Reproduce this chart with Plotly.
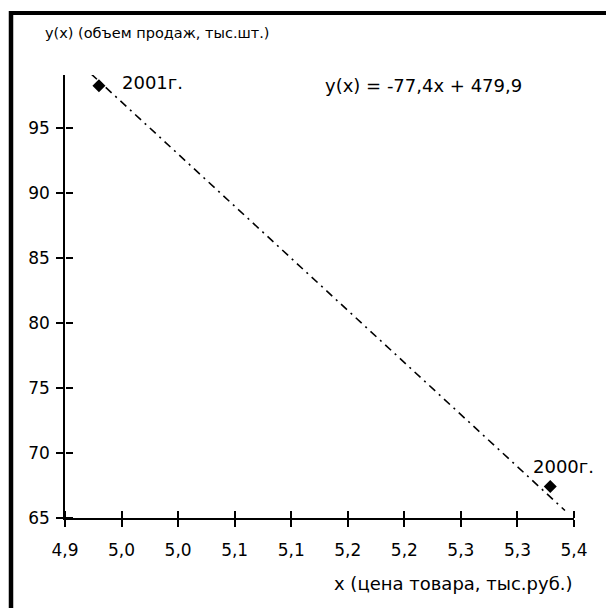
import plotly.graph_objects as go

# ---- data ----
years = ["2001г.", "2000г."]
price = [4.930, 5.329]          # x, тыс.руб.
sales = [98.27, 67.42]          # y, тыс.шт.
trend_x = [4.923, 5.342]
trend_y = [99.19, 65.58]
equation = "y(x) = -77,4x + 479,9"
x_tickvals = [4.90, 4.95, 5.00, 5.05, 5.10, 5.15, 5.20, 5.25, 5.30, 5.35]
x_ticktext = ["4,9", "5,0", "5,0", "5,1", "5,1", "5,2", "5,2", "5,3", "5,3", "5,4"]
y_tickvals = [65, 70, 75, 80, 85, 90, 95]
y_ticktext = ["65", "70", "75", "80", "85", "90", "95"]
x_title = "x (цена товара, тыс.руб.)"
y_title = "y(x) (объем продаж, тыс.шт.)"

XR = [4.90, 5.35]
YR = [65, 99.1]
FONT = "DejaVu Sans"
OFF = 0  # body margin removed by post_script

fig = go.Figure()
fig.add_trace(go.Scatter(
    x=trend_x, y=trend_y, mode="lines",
    line=dict(color="black", width=1.6, dash="8px,5px,2px,5px"),
    hoverinfo="skip"))
fig.add_trace(go.Scatter(
    x=price, y=sales, mode="markers",
    marker=dict(symbol="diamond", size=10, color="black")))
# dummy trace so the tick-only overlay axes are drawn
fig.add_trace(go.Scatter(x=[None], y=[None], xaxis="x2", yaxis="y2",
                         mode="markers", hoverinfo="skip"))

W, H = 606, 608
ml, mr, mt, mb = 65, 32, 75, 90
pw, ph = W - ml - mr, H - mt - mb

def px2paper_x(px):
    return (px - OFF - ml) / pw

def px2paper_y(py):
    return 1 - (py - OFF - mt) / ph

fig.update_layout(
    width=W, height=H,
    margin=dict(l=ml, r=mr, t=mt, b=mb),
    paper_bgcolor="white", plot_bgcolor="white",
    showlegend=False,
    font=dict(family=FONT, color="black"),
    xaxis=dict(range=XR, tickmode="array", tickvals=x_tickvals, ticktext=x_ticktext,
               ticks="outside", ticklen=7, tickwidth=1.5, tickcolor="black",
               showline=True, linecolor="black", linewidth=1.5,
               ticklabelstandoff=9, showgrid=False, zeroline=False,
               tickfont=dict(family=FONT, size=17, color="black")),
    yaxis=dict(range=YR, tickmode="array", tickvals=y_tickvals, ticktext=y_ticktext,
               ticks="outside", ticklen=7, tickwidth=1.5, tickcolor="black",
               showline=True, linecolor="black", linewidth=1.5,
               ticklabelstandoff=3, showgrid=False, zeroline=False,
               tickfont=dict(family=FONT, size=17, color="black")),
    # inner halves of the crossing tick marks
    xaxis2=dict(range=XR, overlaying="x", anchor="free", position=0, side="top",
                tickmode="array", tickvals=x_tickvals, ticks="outside", ticklen=7,
                tickwidth=1.5, tickcolor="black", showticklabels=False,
                showline=False, showgrid=False, zeroline=False),
    yaxis2=dict(range=YR, overlaying="y", anchor="free", position=0, side="right",
                tickmode="array", tickvals=y_tickvals, ticks="outside", ticklen=7,
                tickwidth=1.5, tickcolor="black", showticklabels=False,
                showline=False, showgrid=False, zeroline=False),
)

# frame (left and top edges)
fig.add_shape(type="line", xref="paper", yref="paper",
              x0=px2paper_x(11), x1=px2paper_x(11),
              y0=px2paper_y(11), y1=px2paper_y(640),
              line=dict(color="black", width=4.5))
fig.add_shape(type="line", xref="paper", yref="paper",
              x0=px2paper_x(9), x1=px2paper_x(640),
              y0=px2paper_y(13), y1=px2paper_y(13),
              line=dict(color="black", width=4))

# axis titles and equation
fig.add_annotation(text=y_title, xref="paper", yref="paper",
                   x=px2paper_x(43), y=px2paper_y(33), xanchor="left", yanchor="middle",
                   showarrow=False, font=dict(family=FONT, size=14.5, color="black"))
fig.add_annotation(text=x_title, xref="paper", yref="paper",
                   x=px2paper_x(575), y=px2paper_y(583), xanchor="right", yanchor="middle",
                   showarrow=False, font=dict(family=FONT, size=18, color="black"))
fig.add_annotation(text=equation, xref="paper", yref="paper",
                   x=px2paper_x(323), y=px2paper_y(85), xanchor="left", yanchor="middle",
                   showarrow=False, font=dict(family=FONT, size=18, color="black"))

# point labels
offsets = [(21, 3), (-19, 20)]
for yr, xv, yv, (dx, dy) in zip(years, price, sales, offsets):
    fig.add_annotation(text=yr, x=xv, y=yv, xref="x", yref="y",
                       xanchor="left", yanchor="middle", xshift=dx, yshift=dy,
                       showarrow=False, font=dict(family=FONT, size=18, color="black"))

fig.write_html(
    "out.html",
    config={"displayModeBar": False},
    post_script=("document.body.style.margin='0';"
                 "document.body.style.overflow='hidden';"
                 "document.documentElement.style.overflow='hidden';"))
